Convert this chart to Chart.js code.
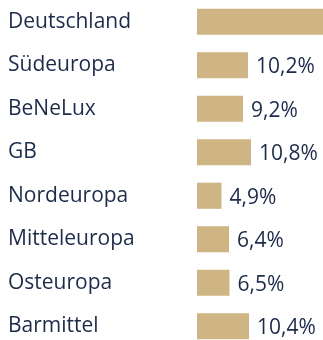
<!DOCTYPE html>
<html>
<head>
<meta charset="utf-8">
<script src="https://cdn.jsdelivr.net/npm/chart.js@4"></script>
<style>
  html, body { margin: 0; padding: 0; background: #ffffff; overflow: hidden; }
  #wrap { width: 323px; height: 348px; }
</style>
</head>
<body>
<div id="wrap"><canvas id="c" width="323" height="348"></canvas></div>
<script>
// Regional shares (percent)
const regions = ['Deutschland', 'Südeuropa', 'BeNeLux', 'GB', 'Nordeuropa', 'Mitteleuropa', 'Osteuropa', 'Barmittel'];
const shares = [41.5, 10.2, 9.2, 10.8, 4.9, 6.4, 6.5, 10.4];
const axisMax = 25.2;

const TEXT = '#1c2b4a';
const BAR = '#d0b584';
const FONT = '"Open Sans", "Noto Sans", sans-serif';

const fmt = v => v.toFixed(1).replace('.', ',') + '%';

const valueLabels = {
  id: 'valueLabels',
  afterDatasetsDraw(chart) {
    const ctx = chart.ctx;
    const meta = chart.getDatasetMeta(0);
    ctx.save();
    ctx.fillStyle = TEXT;
    ctx.font = '21px ' + FONT;
    ctx.textAlign = 'left';
    ctx.textBaseline = 'middle';
    meta.data.forEach((bar, i) => {
      ctx.fillText(fmt(shares[i]), bar.x + 8, bar.y + 2);
    });
    ctx.restore();
  }
};

new Chart(document.getElementById('c'), {
  type: 'bar',
  data: {
    labels: regions,
    datasets: [{
      data: shares,
      backgroundColor: BAR,
      borderWidth: 0,
      barPercentage: 0.6,
      categoryPercentage: 1.0
    }]
  },
  options: {
    indexAxis: 'y',
    responsive: false,
    animation: false,
    layout: { padding: { left: 8, right: 0, top: 0, bottom: 0 } },
    plugins: {
      legend: { display: false },
      tooltip: { enabled: false }
    },
    scales: {
      x: {
        display: false,
        min: 0,
        max: axisMax
      },
      y: {
        grid: { display: false, drawTicks: false },
        border: { display: false },
        afterFit(scale) {
          scale.width = 189;
          scale.paddingTop = 0;
          scale.paddingBottom = 0;
        },
        ticks: {
          crossAlign: 'far',
          color: TEXT,
          font: { family: FONT, size: 21 },
          padding: 0
        }
      }
    }
  },
  plugins: [valueLabels]
});
</script>
</body>
</html>
